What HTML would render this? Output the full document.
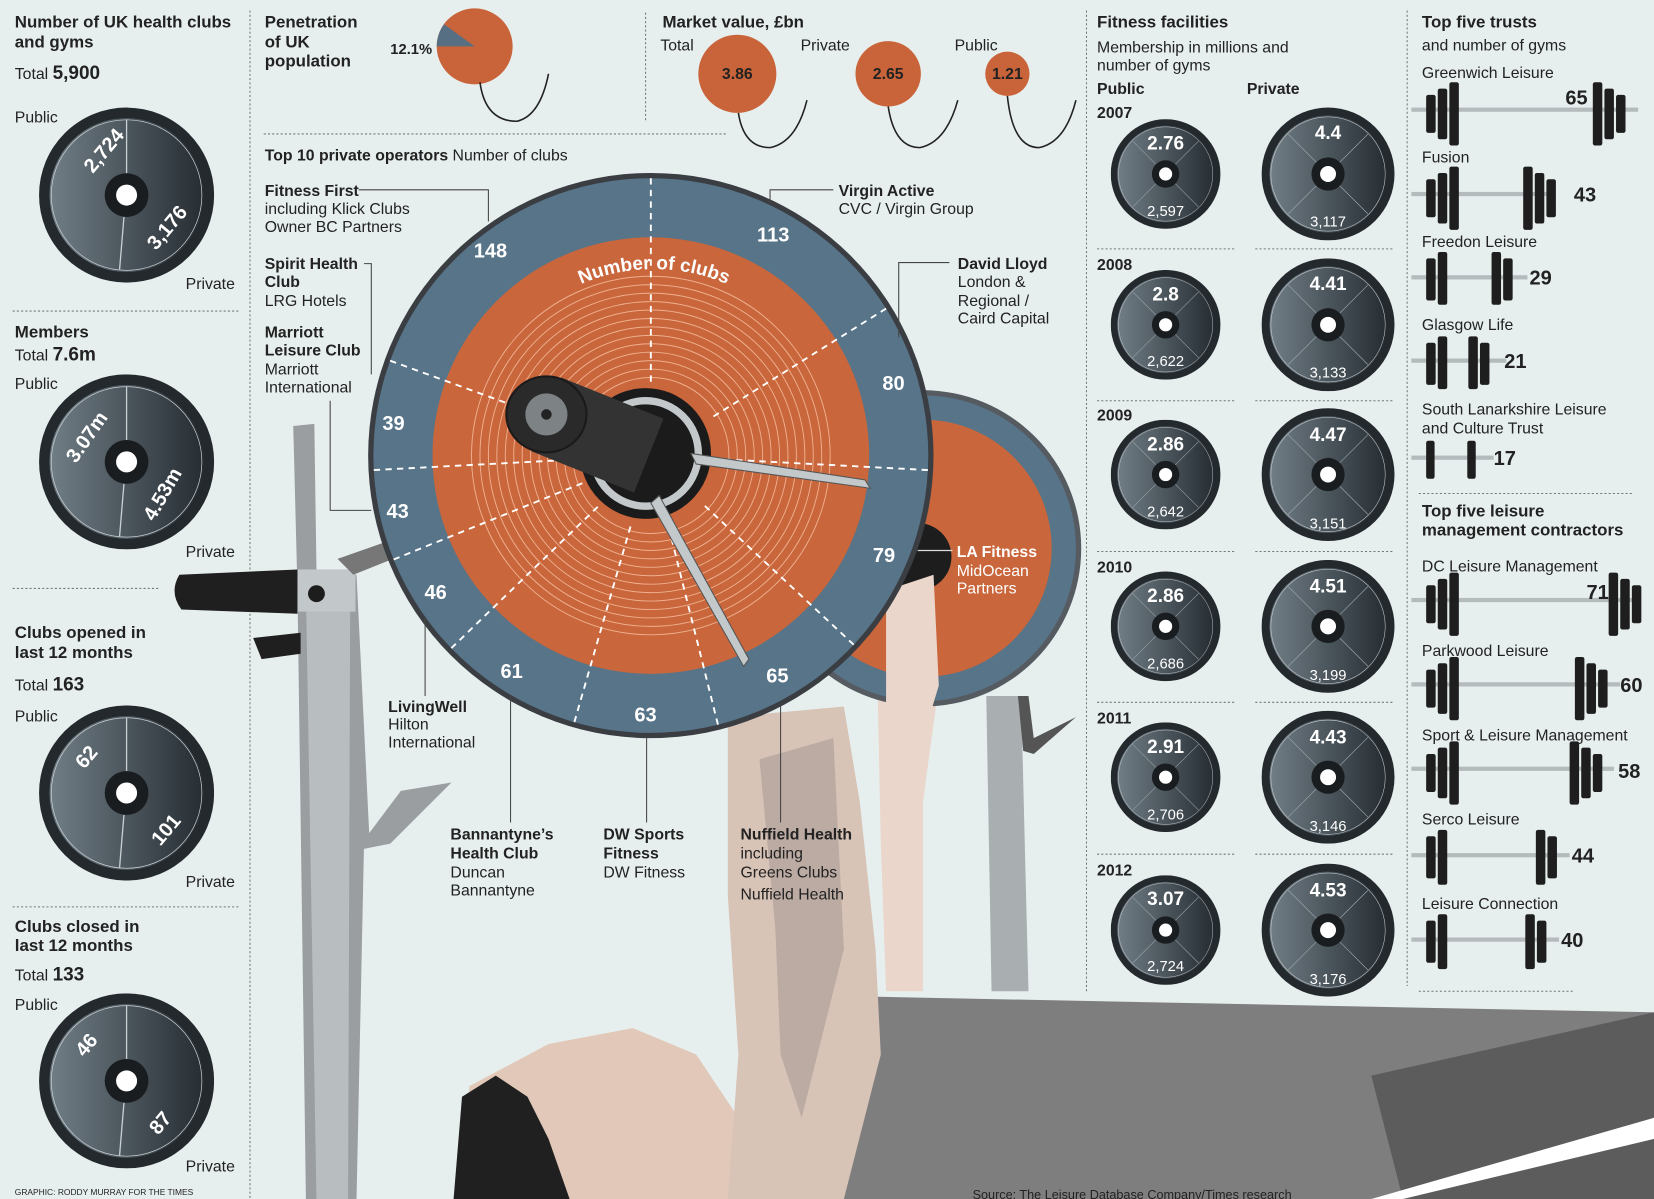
<!DOCTYPE html>
<html><head><meta charset="utf-8"><style>
html,body{margin:0;padding:0;background:#e7efee;}
svg{display:block}
text{font-family:"Liberation Sans",sans-serif;}
.b{font-weight:bold}
.w{font-weight:bold}
</style></head><body>
<svg width="1654" height="1199" viewBox="0 0 1568 1137" preserveAspectRatio="none" xmlns="http://www.w3.org/2000/svg" font-size="15" fill="#222">
<defs>
<linearGradient id="pg" x1="0" y1="0" x2="1" y2="0"><stop offset="0" stop-color="#717e86"/><stop offset="1" stop-color="#262d33"/></linearGradient>
<symbol id="pl" viewBox="-100 -100 200 200">
<circle r="100" fill="#24292e"/><circle r="88" fill="url(#pg)"/><circle r="86" fill="none" stroke="#c9d0d3" stroke-width="0.8"/>
<line x1="-60" y1="-60" x2="-15" y2="-15" stroke="#9aa5ab" stroke-width="1"/><line x1="60" y1="-60" x2="15" y2="-15" stroke="#9aa5ab" stroke-width="1"/>
<line x1="-60" y1="60" x2="-15" y2="15" stroke="#9aa5ab" stroke-width="1"/><line x1="60" y1="60" x2="15" y2="15" stroke="#9aa5ab" stroke-width="1"/>
<circle r="25" fill="#1a1d20"/><circle r="12" fill="#fff"/>
</symbol>
<symbol id="pl2" viewBox="-100 -100 200 200">
<circle r="100" fill="#24292e"/><circle r="88" fill="url(#pg)"/><circle r="86" fill="none" stroke="#c9d0d3" stroke-width="0.8"/>
<line x1="0" y1="-86" x2="0" y2="-25" stroke="#c9d0d3" stroke-width="1.5"/><line x1="-8" y1="85" x2="-3" y2="25" stroke="#c9d0d3" stroke-width="1.5"/>
<circle r="25" fill="#1a1d20"/><circle r="12" fill="#fff"/>
</symbol>
<path id="arc" d="M 470 340 A 175 175 0 0 1 770 340"/>
</defs>
<rect width="1568" height="1137" fill="#e7efee"/>

<g stroke="#777" stroke-width="1" stroke-dasharray="2,2" fill="none">
<line x1="237" y1="10" x2="237" y2="1137"/><line x1="612" y1="12" x2="612" y2="115"/>
<line x1="1030" y1="10" x2="1030" y2="940"/><line x1="1334" y1="10" x2="1334" y2="935"/>
<line x1="250" y1="127" x2="690" y2="127"/>
<line x1="12" y1="295" x2="226" y2="295"/><line x1="12" y1="558" x2="152" y2="558"/><line x1="12" y1="860" x2="226" y2="860"/>
<line x1="1040" y1="236" x2="1170" y2="236"/><line x1="1190" y1="236" x2="1320" y2="236"/>
<line x1="1040" y1="380" x2="1170" y2="380"/><line x1="1190" y1="380" x2="1320" y2="380"/>
<line x1="1040" y1="523" x2="1170" y2="523"/><line x1="1190" y1="523" x2="1320" y2="523"/>
<line x1="1040" y1="666" x2="1170" y2="666"/><line x1="1190" y1="666" x2="1320" y2="666"/>
<line x1="1040" y1="810" x2="1170" y2="810"/><line x1="1190" y1="810" x2="1320" y2="810"/>
<line x1="1345" y1="468" x2="1548" y2="468"/><line x1="1345" y1="940" x2="1492" y2="940"/>
</g>

<!-- left column -->
<text x="14" y="26" class="b" font-size="16">Number of UK health clubs</text>
<text x="14" y="45" class="b" font-size="16">and gyms</text>
<text x="14" y="75">Total <tspan class="b" font-size="18">5,900</tspan></text>
<text x="14" y="116">Public</text>
<use href="#pl2" x="37" y="102" width="166" height="166"/>
<text class="w" fill="#fff" font-size="19" transform="translate(88,165) rotate(-50)">2,724</text>
<text class="w" fill="#fff" font-size="19" transform="translate(148,238) rotate(-50)">3,176</text>
<text x="176" y="274">Private</text>

<text x="14" y="320" class="b" font-size="16">Members</text>
<text x="14" y="342">Total <tspan class="b" font-size="18">7.6m</tspan></text>
<text x="14" y="369">Public</text>
<use href="#pl2" x="37" y="355" width="166" height="166"/>
<text class="w" fill="#fff" font-size="19" transform="translate(72,440) rotate(-55)">3.07m</text>
<text class="w" fill="#fff" font-size="19" transform="translate(146,495) rotate(-60)">4.53m</text>
<text x="176" y="528">Private</text>

<text x="14" y="605" class="b" font-size="16">Clubs opened in</text>
<text x="14" y="624" class="b" font-size="16">last 12 months</text>
<text x="14" y="655">Total <tspan class="b" font-size="18">163</tspan></text>
<text x="14" y="684">Public</text>
<use href="#pl2" x="37" y="669" width="166" height="166"/>
<text class="w" fill="#fff" font-size="19" transform="translate(80,730) rotate(-50)">62</text>
<text class="w" fill="#fff" font-size="19" transform="translate(152,803) rotate(-50)">101</text>
<text x="176" y="841">Private</text>

<text x="14" y="884" class="b" font-size="16">Clubs closed in</text>
<text x="14" y="902" class="b" font-size="16">last 12 months</text>
<text x="14" y="930">Total <tspan class="b" font-size="18">133</tspan></text>
<text x="14" y="958">Public</text>
<use href="#pl2" x="37" y="942" width="166" height="166"/>
<text class="w" fill="#fff" font-size="19" transform="translate(80,1003) rotate(-50)">46</text>
<text class="w" fill="#fff" font-size="19" transform="translate(150,1077) rotate(-50)">87</text>
<text x="176" y="1111">Private</text>
<text x="14" y="1133" font-size="8">GRAPHIC: RODDY MURRAY FOR THE TIMES</text>

<!-- penetration + market -->
<text x="251" y="26" class="b" font-size="16">Penetration</text>
<text x="251" y="45" class="b" font-size="16">of UK</text>
<text x="251" y="63" class="b" font-size="16">population</text>
<text x="370" y="51" class="b" font-size="14">12.1%</text>
<circle cx="450" cy="44" r="36" fill="#c9643a"/>
<path d="M450 44 L414 44 A36 36 0 0 1 421 23 Z" fill="#566f82"/>
<path d="M455 78 Q460 115 490 115 Q512 110 520 70" fill="none" stroke="#222" stroke-width="1.5"/>
<text x="628" y="26" class="b" font-size="16">Market value, £bn</text>
<text x="626" y="48">Total</text><text x="759" y="48">Private</text><text x="905" y="48">Public</text>
<circle cx="699" cy="70" r="37" fill="#c9643a"/><text x="699" y="75" text-anchor="middle" class="b">3.86</text>
<circle cx="842" cy="70" r="31" fill="#c9643a"/><text x="842" y="75" text-anchor="middle" class="b">2.65</text>
<circle cx="955" cy="70" r="21" fill="#c9643a"/><text x="955" y="75" text-anchor="middle" class="b">1.21</text>
<g fill="none" stroke="#222" stroke-width="1.5">
<path d="M700 107 Q705 140 730 140 Q755 135 765 95"/>
<path d="M842 101 Q848 140 872 140 Q897 135 908 95"/>
<path d="M955 91 Q960 140 985 140 Q1010 135 1020 95"/>
</g>

<!-- rack left -->
<path d="M278 404 L298 402 L300 540 L338 545 L350 790 L380 750 L428 742 L370 800 L345 805 L338 1137 L290 1137 L282 560 Z" fill="#9a9ea1"/>
<path d="M290 560 L332 560 L330 1137 L300 1137 Z" fill="#b8bdc0"/>
<rect x="282" y="540" width="55" height="40" fill="#c2c7ca"/>
<circle cx="300" cy="563" r="8" fill="#1d1d1d"/>
<path d="M170 545 L282 540 L282 582 L172 578 Q160 562 170 545Z" fill="#1f1f1f"/>
<path d="M240 605 L285 600 L285 620 L248 625 Z" fill="#1f1f1f"/>
<path d="M320 530 L405 500 L410 515 L335 545 Z" fill="#777"/>
<!-- rack right -->
<path d="M935 660 L968 660 L975 940 L940 940 Z" fill="#a9aeb1"/>
<path d="M965 660 L975 660 L980 700 L1020 680 L980 715 L970 712Z" fill="#555"/>

<!-- body -->
<path d="M820 945 L1568 960 L1568 1137 L700 1137 L760 980 Z" fill="#7e7e7e"/>
<path d="M1300 1020 L1568 960 L1568 1137 L1330 1137 Z" fill="#5c5c5c"/>
<path d="M1300 1137 L1568 1060 L1568 1080 L1330 1137Z" fill="#fff"/>
<path d="M435 1137 L445 1030 L520 990 L600 975 L660 1000 L700 1060 L770 1120 L770 1137 Z" fill="#e2c8b8"/>
<path d="M430 1137 L438 1040 L470 1020 L500 1040 L520 1080 L540 1137 Z" fill="#202020"/>
<path d="M690 680 L800 670 L815 760 L830 900 L835 1000 L800 1137 L690 1137 L700 1000 L690 850 Z" fill="#d8c3b7"/>
<path d="M720 720 L790 700 L800 900 L760 1060 L740 1000 L735 880 Z" fill="#b4a59d" opacity="0.8"/>
<path d="M830 560 L885 545 L890 650 L875 760 L875 940 L840 940 L835 800 Z" fill="#ead6cb"/>

<!-- back plate -->
<circle cx="875" cy="520" r="150" fill="#555b60"/>
<circle cx="875" cy="520" r="145" fill="#587489"/>
<circle cx="875" cy="520" r="122" fill="#c9663b"/>
<circle cx="870" cy="528" r="32" fill="#1d1d1d"/>
<path d="M840 560 L885 545 L890 650 L875 700 L840 690 Z" fill="#ead6cb"/>
<text x="907" y="528" class="w" fill="#fff">LA Fitness</text>
<text x="907" y="546" fill="#fff">MidOcean</text>
<text x="907" y="563" fill="#fff">Partners</text>
<line x1="870" y1="522" x2="903" y2="522" stroke="#ddd" stroke-width="1.2"/>

<!-- main plate -->
<circle cx="617" cy="432" r="268" fill="#3a3e42"/>
<circle cx="617" cy="432" r="263" fill="#587489"/>
<circle cx="617" cy="432" r="207" fill="#c9663b"/>
<g fill="none" stroke="#eeb08f" stroke-width="0.9">
<circle cx="617" cy="432" r="170"/><circle cx="617" cy="432" r="162"/><circle cx="617" cy="432" r="154"/><circle cx="617" cy="432" r="146"/><circle cx="617" cy="432" r="138"/><circle cx="617" cy="432" r="130"/><circle cx="617" cy="432" r="122"/><circle cx="617" cy="432" r="114"/><circle cx="617" cy="432" r="106"/><circle cx="617" cy="432" r="98"/><circle cx="617" cy="432" r="90"/><circle cx="617" cy="432" r="82"/><circle cx="617" cy="432" r="74"/>
</g>
<g stroke="#fff" stroke-width="1.8" stroke-dasharray="6,5" transform="translate(617,432)">
<line x1="0" y1="-70" x2="0" y2="-263"/>
<line x1="0" y1="-70" x2="0" y2="-263" transform="rotate(58)"/>
<line x1="0" y1="-70" x2="0" y2="-263" transform="rotate(93)"/>
<line x1="0" y1="-70" x2="0" y2="-263" transform="rotate(133)"/>
<line x1="0" y1="-70" x2="0" y2="-263" transform="rotate(166)"/>
<line x1="0" y1="-70" x2="0" y2="-263" transform="rotate(196)"/>
<line x1="0" y1="-70" x2="0" y2="-263" transform="rotate(226)"/>
<line x1="0" y1="-70" x2="0" y2="-263" transform="rotate(248)"/>
<line x1="0" y1="-70" x2="0" y2="-263" transform="rotate(267)"/>
<line x1="0" y1="-70" x2="0" y2="-263" transform="rotate(290)"/>
</g>
<text class="w" fill="#fff" font-size="18"><textPath href="#arc" startOffset="50%" text-anchor="middle">Number of clubs</textPath></text>
<g class="w" fill="#fff" font-size="19" text-anchor="middle">
<text x="465" y="244">148</text><text x="733" y="229">113</text><text x="847" y="370">80</text>
<text x="838" y="533">79</text><text x="737" y="647">65</text><text x="612" y="684">63</text>
<text x="485" y="643">61</text><text x="413" y="568">46</text><text x="377" y="491">43</text><text x="373" y="408">39</text>
</g>
<!-- hub and bar -->
<circle cx="612" cy="430" r="62" fill="#1b1b1b"/>
<circle cx="612" cy="430" r="50" fill="none" stroke="#c3c8cb" stroke-width="7"/>
<polygon points="532,358 629,397 601,467 504,428" fill="#333"/>
<ellipse cx="518" cy="393" rx="38" ry="36" fill="#2a2a2a" stroke="#1a1a1a" stroke-width="2"/>
<circle cx="518" cy="393" r="20" fill="#7d8285"/><circle cx="518" cy="393" r="5" fill="#222"/>
<path d="M655 430 L820 455 L825 463 L660 440 Z" fill="#c3c8cb" stroke="#555" stroke-width="1"/>
<path d="M625 470 L710 625 L705 632 L617 477 Z" fill="#c3c8cb" stroke="#555" stroke-width="1"/>

<!-- top 10 labels -->
<text x="251" y="152" class="b">Top 10 private operators <tspan font-weight="normal">Number of clubs</tspan></text>
<g fill="none" stroke="#444" stroke-width="1">
<polyline points="340,180 463,180 463,210"/><polyline points="790,180 730,180 730,193"/>
<polyline points="345,250 352,250 352,355"/><polyline points="313,380 313,484 352,484"/>
<polyline points="900,249 852,249 852,320"/><line x1="403" y1="585" x2="403" y2="660"/>
<line x1="484" y1="660" x2="484" y2="780"/><line x1="613" y1="700" x2="613" y2="780"/><line x1="740" y1="668" x2="740" y2="780"/>
</g>
<text x="251" y="186" class="b">Fitness First</text><text x="251" y="203">including Klick Clubs</text><text x="251" y="220">Owner BC Partners</text>
<text x="251" y="255" class="b">Spirit Health</text><text x="251" y="272" class="b">Club</text><text x="251" y="290">LRG Hotels</text>
<text x="251" y="320" class="b">Marriott</text><text x="251" y="337" class="b">Leisure Club</text><text x="251" y="355">Marriott</text><text x="251" y="372">International</text>
<text x="795" y="186" class="b">Virgin Active</text><text x="795" y="203">CVC / Virgin Group</text>
<text x="908" y="255" class="b">David Lloyd</text><text x="908" y="272">London &amp;</text><text x="908" y="290">Regional /</text><text x="908" y="307">Caird Capital</text>
<text x="368" y="675" class="b">LivingWell</text><text x="368" y="692">Hilton</text><text x="368" y="709">International</text>
<text x="427" y="796" class="b">Bannantyne’s</text><text x="427" y="814" class="b">Health Club</text><text x="427" y="832">Duncan</text><text x="427" y="849">Bannantyne</text>
<text x="572" y="796" class="b">DW Sports</text><text x="572" y="814" class="b">Fitness</text><text x="572" y="832">DW Fitness</text>
<text x="702" y="796" class="b">Nuffield Health</text><text x="702" y="814">including</text><text x="702" y="832">Greens Clubs</text><text x="702" y="853">Nuffield Health</text>
<text x="922" y="1137" font-size="12">Source: The Leisure Database Company/Times research</text>

<!-- fitness facilities -->
<text x="1040" y="26" class="b" font-size="16">Fitness facilities</text>
<text x="1040" y="50">Membership in millions and</text><text x="1040" y="67">number of gyms</text>
<text x="1040" y="89" class="b">Public</text><text x="1182" y="89" class="b">Private</text>
<text x="1040" y="112" class="b">2007</text><text x="1040" y="256" class="b">2008</text><text x="1040" y="399" class="b">2009</text><text x="1040" y="543" class="b">2010</text><text x="1040" y="686" class="b">2011</text><text x="1040" y="830" class="b">2012</text>
<use href="#pl" x="1053" y="113" width="104" height="104"/><use href="#pl" x="1196" y="102" width="126" height="126"/>
<use href="#pl" x="1053" y="256" width="104" height="104"/><use href="#pl" x="1196" y="245" width="126" height="126"/>
<use href="#pl" x="1053" y="398" width="104" height="104"/><use href="#pl" x="1196" y="387" width="126" height="126"/>
<use href="#pl" x="1053" y="542" width="104" height="104"/><use href="#pl" x="1196" y="531" width="126" height="126"/>
<use href="#pl" x="1053" y="685" width="104" height="104"/><use href="#pl" x="1196" y="674" width="126" height="126"/>
<use href="#pl" x="1053" y="830" width="104" height="104"/><use href="#pl" x="1196" y="819" width="126" height="126"/>
<g text-anchor="middle" fill="#fff">
<text x="1105" y="142" class="w" font-size="18">2.76</text><text x="1105" y="205" font-size="14">2,597</text>
<text x="1259" y="132" class="w" font-size="18">4.4</text><text x="1259" y="215" font-size="14">3,117</text>
<text x="1105" y="285" class="w" font-size="18">2.8</text><text x="1105" y="347" font-size="14">2,622</text>
<text x="1259" y="275" class="w" font-size="18">4.41</text><text x="1259" y="358" font-size="14">3,133</text>
<text x="1105" y="427" class="w" font-size="18">2.86</text><text x="1105" y="490" font-size="14">2,642</text>
<text x="1259" y="418" class="w" font-size="18">4.47</text><text x="1259" y="501" font-size="14">3,151</text>
<text x="1105" y="571" class="w" font-size="18">2.86</text><text x="1105" y="634" font-size="14">2,686</text>
<text x="1259" y="562" class="w" font-size="18">4.51</text><text x="1259" y="645" font-size="14">3,199</text>
<text x="1105" y="714" class="w" font-size="18">2.91</text><text x="1105" y="777" font-size="14">2,706</text>
<text x="1259" y="705" class="w" font-size="18">4.43</text><text x="1259" y="788" font-size="14">3,146</text>
<text x="1105" y="858" class="w" font-size="18">3.07</text><text x="1105" y="921" font-size="14">2,724</text>
<text x="1259" y="850" class="w" font-size="18">4.53</text><text x="1259" y="933" font-size="14">3,176</text>
</g>

<!-- top five trusts -->
<text x="1348" y="26" class="b" font-size="16">Top five trusts</text>
<text x="1348" y="48">and number of gyms</text>
<g fill="#1e1e1e">
<rect x="1338" y="102" width="215" height="4" fill="#b5babd"/>
<rect x="1352" y="90" width="9" height="36" rx="2"/><rect x="1363" y="84" width="9" height="48" rx="2"/><rect x="1374" y="78" width="9" height="60" rx="2"/>
<rect x="1510" y="78" width="9" height="60" rx="2"/><rect x="1521" y="84" width="9" height="48" rx="2"/><rect x="1532" y="90" width="9" height="36" rx="2"/>
<rect x="1338" y="182" width="132" height="4" fill="#b5babd"/>
<rect x="1352" y="170" width="9" height="36" rx="2"/><rect x="1363" y="164" width="9" height="48" rx="2"/><rect x="1374" y="158" width="9" height="60" rx="2"/>
<rect x="1444" y="158" width="9" height="60" rx="2"/><rect x="1455" y="164" width="9" height="48" rx="2"/><rect x="1466" y="170" width="9" height="36" rx="2"/>
<rect x="1338" y="261" width="110" height="4" fill="#b5babd"/>
<rect x="1352" y="245" width="9" height="40" rx="2"/><rect x="1363" y="239" width="9" height="50" rx="2"/>
<rect x="1414" y="239" width="9" height="50" rx="2"/><rect x="1425" y="245" width="9" height="40" rx="2"/>
<rect x="1338" y="340" width="90" height="4" fill="#b5babd"/>
<rect x="1352" y="325" width="9" height="40" rx="2"/><rect x="1363" y="319" width="9" height="50" rx="2"/>
<rect x="1392" y="319" width="9" height="50" rx="2"/><rect x="1403" y="325" width="9" height="40" rx="2"/>
<rect x="1338" y="432" width="78" height="4" fill="#b5babd"/>
<rect x="1352" y="418" width="8" height="36" rx="2"/><rect x="1391" y="418" width="8" height="36" rx="2"/>
</g>
<text x="1348" y="74">Greenwich Leisure</text><text x="1484" y="99" class="b" font-size="19">65</text>
<text x="1348" y="154">Fusion</text><text x="1492" y="191" class="b" font-size="19">43</text>
<text x="1348" y="234">Freedon Leisure</text><text x="1450" y="270" class="b" font-size="19">29</text>
<text x="1348" y="313">Glasgow Life</text><text x="1426" y="349" class="b" font-size="19">21</text>
<text x="1348" y="393">South Lanarkshire Leisure</text><text x="1348" y="411">and Culture Trust</text><text x="1416" y="441" class="b" font-size="19">17</text>

<text x="1348" y="490" class="b" font-size="16">Top five leisure</text>
<text x="1348" y="508" class="b" font-size="16">management contractors</text>
<g fill="#1e1e1e">
<rect x="1338" y="567" width="215" height="4" fill="#b5babd"/>
<rect x="1352" y="555" width="9" height="36" rx="2"/><rect x="1363" y="549" width="9" height="48" rx="2"/><rect x="1374" y="543" width="9" height="60" rx="2"/>
<rect x="1525" y="543" width="9" height="60" rx="2"/><rect x="1536" y="549" width="9" height="48" rx="2"/><rect x="1547" y="555" width="9" height="36" rx="2"/>
<rect x="1338" y="647" width="198" height="4" fill="#b5babd"/>
<rect x="1352" y="635" width="9" height="36" rx="2"/><rect x="1363" y="629" width="9" height="48" rx="2"/><rect x="1374" y="623" width="9" height="60" rx="2"/>
<rect x="1493" y="623" width="9" height="60" rx="2"/><rect x="1504" y="629" width="9" height="48" rx="2"/><rect x="1515" y="635" width="9" height="36" rx="2"/>
<rect x="1338" y="727" width="192" height="4" fill="#b5babd"/>
<rect x="1352" y="715" width="9" height="36" rx="2"/><rect x="1363" y="709" width="9" height="48" rx="2"/><rect x="1374" y="703" width="9" height="60" rx="2"/>
<rect x="1488" y="703" width="9" height="60" rx="2"/><rect x="1499" y="709" width="9" height="48" rx="2"/><rect x="1510" y="715" width="9" height="36" rx="2"/>
<rect x="1338" y="809" width="150" height="4" fill="#b5babd"/>
<rect x="1352" y="793" width="9" height="40" rx="2"/><rect x="1363" y="787" width="9" height="52" rx="2"/>
<rect x="1456" y="787" width="9" height="52" rx="2"/><rect x="1467" y="793" width="9" height="40" rx="2"/>
<rect x="1338" y="889" width="140" height="4" fill="#b5babd"/>
<rect x="1352" y="873" width="9" height="40" rx="2"/><rect x="1363" y="867" width="9" height="52" rx="2"/>
<rect x="1446" y="867" width="9" height="52" rx="2"/><rect x="1457" y="873" width="9" height="40" rx="2"/>
</g>
<text x="1348" y="542">DC Leisure Management</text><text x="1504" y="568" class="b" font-size="19">71</text>
<text x="1348" y="622">Parkwood Leisure</text><text x="1536" y="656" class="b" font-size="19">60</text>
<text x="1348" y="702">Sport &amp; Leisure Management</text><text x="1534" y="738" class="b" font-size="19">58</text>
<text x="1348" y="782">Serco Leisure</text><text x="1490" y="818" class="b" font-size="19">44</text>
<text x="1348" y="862">Leisure Connection</text><text x="1480" y="898" class="b" font-size="19">40</text>
</svg>
</body></html>
